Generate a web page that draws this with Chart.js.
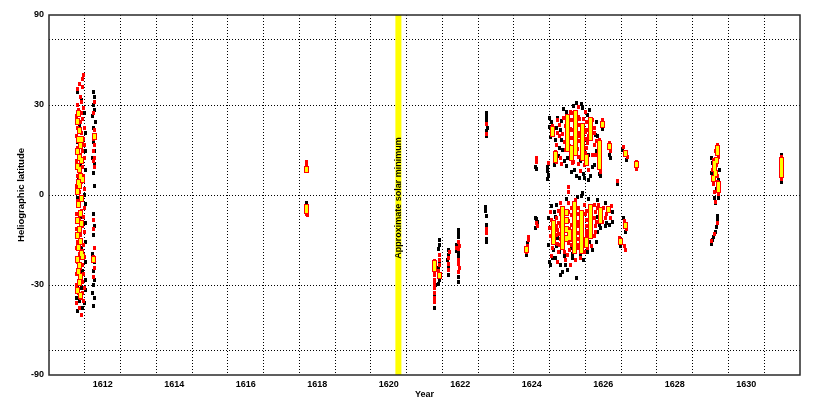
<!DOCTYPE html>
<html>
<head>
<meta charset="utf-8">
<script src="https://cdn.jsdelivr.net/npm/chart.js@4.4.1/dist/chart.umd.min.js"></script>
<style>
  html, body { margin: 0; padding: 0; background: #ffffff; }
  canvas { display: block; }
</style>
</head>
<body>
<canvas id="chart" width="814" height="407"></canvas>
<script>
// ---------------- data (year, heliographic latitude in degrees) ----------------
const xTickYears = [1612, 1614, 1616, 1618, 1620, 1622, 1624, 1626, 1628, 1630];
const xGridYears = [1611.5, 1612.5, 1613.5, 1614.5, 1615.5, 1616.5, 1617.5, 1618.5, 1619.5, 1620.5,
                    1621.5, 1622.5, 1623.5, 1624.5, 1625.5, 1626.5, 1627.5, 1628.5, 1629.5, 1630.5];
const yTickLats = [-90, -60, -30, 0, 30, 60, 90];
const yTickLabels = ['-90', '', '-30', '0', '30', '', '90'];
const minimumYear = 1620.27;
const minimumLabel = 'Approximate solar minimum';

const yellowSpots = [
  // 1611
  [1611.31,24],[1611.36,21],[1611.33,18],[1611.39,16],[1611.31,14],[1611.35,12],[1611.41,11],[1611.30,9],
  [1611.34,8],[1611.38,6],[1611.32,4],[1611.36,3],[1611.30,1],[1611.40,-1],[1611.33,-3],[1611.37,-6],
  [1611.31,-8],[1611.42,-9],[1611.35,-11],[1611.30,-13],[1611.38,-15],[1611.33,-17],[1611.40,-19],
  [1611.31,-21],[1611.36,-23],[1611.32,-25],[1611.39,-27],[1611.34,-29],[1611.30,-32],[1611.37,-34],
  [1611.42,18],[1611.44,5],[1611.45,-20],[1611.33,27],[1611.76,19],[1611.75,-21],
  // 1617
  [1617.71,8],[1617.71,-4],[1617.71,-5],
  // 1621-1624
  [1621.27,-22.5],[1621.28,-24],[1621.41,-26.5],[1623.86,-17.6],
  // 1624-1626 north
  [1624.65,13],[1624.65,11.5],[1624.59,21.5],[1624.59,20],
  [1625.01,25.5],[1625.01,24],[1625.01,22.5],[1625.01,21],[1625.01,19.5],[1625.01,18],[1625.01,16.5],[1625.01,15],
  [1625.23,27],[1625.23,25.5],[1625.23,24],[1625.23,22.5],[1625.23,21],[1625.23,19.5],[1625.23,18],[1625.23,16.5],
  [1625.23,15],[1625.23,13.5],
  [1625.43,22.5],[1625.43,21],[1625.43,19.5],[1625.43,18],[1625.43,16.5],[1625.43,15],[1625.43,13.5],[1625.43,12],
  [1625.65,24.5],[1625.65,23],[1625.65,21.5],[1625.65,20],[1625.65,18.5],
  [1625.90,16.5],[1625.90,15],[1625.90,13.5],[1625.90,12],[1625.90,10.5],[1625.90,9],
  [1625.12,15],[1625.12,13.5],[1625.12,12],[1625.54,12],[1625.54,10.5],
  [1625.99,23.2],[1626.18,15.5],[1626.63,13.2],[1626.94,9.6],
  // 1624-1626 south
  [1624.62,-9],[1624.62,-10.5],[1624.62,-12],[1624.62,-13.5],[1624.62,-15],
  [1624.87,-4.5],[1624.87,-6],[1624.87,-7.5],[1624.87,-9],[1624.87,-10.5],[1624.87,-12],[1624.87,-13.5],
  [1624.87,-15],[1624.87,-16.5],
  [1624.96,-5.5],[1624.96,-8],[1624.96,-11],[1624.96,-14],
  [1625.20,-3],[1625.20,-4.5],[1625.20,-6],[1625.20,-7.5],[1625.20,-9],[1625.20,-10.5],[1625.20,-12],
  [1625.20,-13.5],[1625.20,-15],[1625.20,-16.5],[1625.20,-18],
  [1625.40,-6],[1625.40,-7.5],[1625.40,-9],[1625.40,-10.5],[1625.40,-12],[1625.40,-13.5],[1625.40,-15],
  [1625.40,-16.5],[1625.40,-18],
  [1625.65,-4],[1625.65,-5.5],[1625.65,-7],[1625.65,-8.5],[1625.65,-10],[1625.65,-11.5],[1625.65,-13],
  [1625.93,-5],[1625.93,-6.5],[1625.93,-8],
  [1626.15,-4.5],[1625.06,-12],[1625.06,-13.5],[1625.54,-14.5],[1625.54,-16],
  [1626.63,-9.6],[1626.49,-15.1],
  // 1629
  [1629.20,15.1],[1629.20,13.5],[1629.17,11],[1629.12,10],[1629.12,8.6],[1629.15,7.0],[1629.09,5.4],
  [1629.23,3.2],[1629.23,1.6],
  // 1631
  [1630.97,11.2],[1630.97,9.6],[1630.97,8.0],[1630.97,6.4]
];

const redSpots = [
  // 1611 main column
  [1611.46,42],[1611.45,40],[1611.44,37],[1611.34,38],[1611.30,36],[1611.37,33],[1611.42,31],[1611.29,30],
  [1611.47,29],[1611.33,28],[1611.40,27],[1611.28,26],[1611.45,25],[1611.37,24],[1611.30,22],[1611.48,22],
  [1611.41,20],[1611.28,19],[1611.46,18],[1611.34,17],[1611.50,16],[1611.29,15],[1611.43,14],[1611.37,13],
  [1611.48,12],[1611.27,11],[1611.44,9],[1611.39,8],[1611.29,6],[1611.47,6],[1611.42,4],[1611.28,3],
  [1611.49,2],[1611.34,1],[1611.45,-1],[1611.29,-2],[1611.50,-4],[1611.41,-5],[1611.27,-6],[1611.47,-7],
  [1611.34,-8],[1611.44,-10],[1611.28,-11],[1611.50,-12],[1611.39,-13],[1611.31,-15],[1611.46,-16],
  [1611.27,-17],[1611.43,-18],[1611.36,-19],[1611.49,-20],[1611.29,-22],[1611.44,-23],[1611.38,-24],
  [1611.27,-26],[1611.47,-26],[1611.35,-28],[1611.43,-29],[1611.28,-30],[1611.50,-31],[1611.32,-33],
  [1611.45,-33],[1611.39,-35],[1611.28,-37],[1611.46,-36],[1611.34,-39],[1611.42,-42],
  // 1611 second column
  [1611.76,31],[1611.74,27],[1611.78,21],[1611.75,18],[1611.77,16],[1611.74,14],[1611.78,12],[1611.75,11],
  [1611.77,9],[1611.75,-8],[1611.74,-11],[1611.77,-17],[1611.75,-20],[1611.76,-24],[1611.74,-27],
  // 1617
  [1617.70,10.5],[1617.71,9.5],[1617.70,-3.5],[1617.71,-6],[1617.72,-6.5],
  // 1621-1624
  [1621.27,-21.5],[1621.29,-25],[1621.28,-26.5],[1621.27,-28],[1621.29,-29.5],[1621.28,-31],[1621.29,-33],
  [1621.28,-35],[1621.29,-36.5],
  [1621.41,-19.5],[1621.42,-21],[1621.41,-23],[1621.40,-25],
  [1621.67,-20.5],[1621.66,-22.5],[1621.68,-24.5],[1621.69,-18.5],
  [1621.95,-15],[1621.97,-16.3],[1621.95,-17.3],[1621.96,-21.3],[1621.95,-22.7],[1621.97,-24],[1621.95,-25.5],[1621.89,-17],
  [1622.74,23.2],[1622.74,19.9],[1622.74,-11],[1622.74,-12.3],
  [1624.13,12],[1624.12,10.5],[1624.12,-8.8],[1624.15,-9.8],
  [1623.92,-13.5],[1623.90,-14.6],[1623.88,-16.4],[1623.85,-18.5],
  [1624.46,10.3],
  // 1624-1626 north
  [1624.59,22.6],[1624.56,21.2],[1624.73,20.2],[1624.70,16.1],[1624.67,13.8],[1624.70,10.6],
  [1624.90,25.3],[1624.95,22.6],[1624.87,19.8],[1624.92,17.1],[1624.95,14.5],
  [1625.09,27.5],[1625.12,24.6],[1625.09,21.5],[1625.12,18.5],[1625.06,15.8],[1625.09,12.8],[1625.15,10.2],
  [1625.31,29.3],[1625.31,25.7],[1625.34,22.9],[1625.31,20.2],[1625.34,17.5],[1625.29,14.8],[1625.31,12.2],
  [1625.51,27.5],[1625.54,23.9],[1625.51,20.5],[1625.57,16.8],[1625.51,13.5],[1625.48,9.6],
  [1625.71,24.6],[1625.74,21.9],[1625.68,18.8],[1625.76,16.1],[1625.71,12.8],[1625.59,8.0],[1625.37,7.7],
  [1625.90,17.8],[1625.93,7.5],[1625.87,12.0],[1625.99,24.6],[1626.18,16.8],[1626.21,14.1],
  [1626.57,15.5],[1626.60,13.8],[1626.69,12.2],[1626.94,10.6],[1626.94,8.3],[1626.41,4.5],
  [1625.03,2.5],[1625.03,1.0],
  [1625.12,21],[1625.12,27],[1625.34,25],[1625.34,19],[1625.54,18],[1625.54,21],[1625.76,20],[1624.78,23],[1624.78,19],
  [1624.80,12],[1624.84,10],[1625.32,10],[1625.52,15],[1625.58,19],[1625.60,23],[1625.78,13],[1625.80,17.5],
  [1624.72,24.5],[1625.46,25],[1625.18,10.5],
  // 1624-1626 south
  [1624.53,-5.4],[1624.56,-8.0],[1624.50,-10.6],[1624.53,-13.2],[1624.59,-17.1],[1624.56,-19.8],
  [1624.70,-7.4],[1624.73,-11.2],[1624.73,-15.8],[1624.76,-18.5],
  [1624.81,-2.5],[1624.81,-6.1],[1624.81,-9.9],[1624.81,-14.1],
  [1625.03,-2.5],[1625.03,-5.4],[1625.03,-8.3],[1625.06,-10.9],[1625.03,-15.5],[1625.06,-17.8],
  [1625.23,-1.6],[1625.12,-4.1],[1625.31,-4.1],[1625.31,-8.6],[1625.31,-12.2],[1625.31,-17.1],[1625.12,-14.5],
  [1625.48,-3.2],[1625.51,-6.1],[1625.54,-9.9],[1625.54,-14.5],[1625.48,-18.5],
  [1625.76,-3.2],[1625.76,-7.4],[1625.79,-9.9],[1625.74,-13.2],[1625.68,-16.5],
  [1625.87,-3.2],[1626.01,-4.1],[1626.10,-6.1],[1626.21,-7.4],[1625.99,-8.6],[1626.24,-3.5],
  [1624.73,-21.9],[1624.95,-21.2],[1625.09,-22.9],[1625.23,-21.2],
  [1625.10,-6.5],[1625.10,-9.5],[1625.30,-6],[1625.30,-10],[1625.30,-14],[1625.52,-5],[1625.52,-8],
  [1625.52,-11.5],[1625.78,-5.5],[1625.78,-12],[1624.70,-10],[1624.70,-13],[1624.75,-5],
  [1624.75,-9],[1624.76,-12.5],[1624.78,-16],[1625.10,-12],[1625.12,-16],[1625.30,-16],[1625.52,-13],
  [1625.56,-17],[1625.80,-8.5],[1625.83,-4],[1626.05,-7.5],[1624.92,-18.5],[1625.00,-19.5],[1625.36,-20.5],
  [1626.60,-8.3],[1626.66,-10.9],[1626.46,-13.8],[1626.60,-16.5],[1626.63,-17.8],
  // 1629
  [1629.20,16.1],[1629.23,12.2],[1629.09,11.2],[1629.17,9.6],[1629.06,8.0],[1629.20,6.1],[1629.20,4.1],
  [1629.23,0.3],[1629.12,1.0],[1629.15,-2.2],[1629.15,14],[1629.09,3.5],
  [1629.20,-8.9],[1629.12,-12.5],[1629.03,-14.8],
  // 1631
  [1630.97,12.2],[1630.97,5.1],[1631.00,10.4]
];

const blackSpots = [
  // 1611 main column
  [1611.31,35],[1611.41,32],[1611.49,27],[1611.36,23],[1611.52,20],[1611.31,17],[1611.51,14],[1611.38,10],
  [1611.52,8],[1611.33,5],[1611.50,0],[1611.31,-1],[1611.52,-3],[1611.40,-7],[1611.53,-9],[1611.32,-12],
  [1611.52,-15],[1611.41,-17],[1611.33,-21],[1611.53,-22],[1611.45,-25],[1611.52,-28],[1611.30,-31],
  [1611.41,-31],[1611.53,-32],[1611.35,-36],[1611.27,-35],[1611.49,-37],[1611.30,-40],[1611.44,-39],
  // 1611 second column
  [1611.75,35],[1611.78,33],[1611.74,30],[1611.77,28],[1611.73,26],[1611.79,24],[1611.75,22],[1611.78,19],
  [1611.74,17],[1611.77,14],[1611.73,12],[1611.78,10],[1611.75,7],[1611.76,3],[1611.74,-6],[1611.77,-10],
  [1611.75,-13],[1611.73,-19],[1611.78,-22],[1611.74,-25],[1611.77,-28],[1611.75,-30],[1611.73,-33],
  [1611.77,-35],[1611.75,-38],
  // 1617
  [1617.70,-2.5],
  // 1621-1624
  [1621.28,-39],[1621.30,-30],[1621.27,-33.5],
  [1621.41,-14.5],[1621.41,-16],[1621.40,-17.5],[1621.41,-21.5],[1621.40,-24],[1621.41,-28],[1621.40,-29.5],
  [1621.66,-17.8],[1621.68,-19.5],[1621.66,-23.5],[1621.68,-26.4],[1621.64,-21],
  [1621.96,-11.2],[1621.96,-12.3],[1621.95,-13.5],[1621.94,-18.5],[1621.96,-19.8],[1621.95,-27],[1621.96,-29],
  [1621.89,-16],[1621.89,-18],
  [1622.74,27.1],[1622.74,25.6],[1622.74,24.2],[1622.75,22],[1622.74,20.8],[1622.74,19.2],
  [1622.71,-3.8],[1622.71,-5.2],[1622.72,-6.8],[1622.74,-9.6],[1622.74,-14],[1622.74,-15.1],
  [1624.11,9],[1624.13,8.3],[1624.10,-7.3],[1624.14,-7.6],[1624.16,-8.5],[1624.11,-10.6],
  [1623.84,-19.5],[1623.87,-15.5],
  [1624.45,9],[1624.45,7.6],[1624.46,6.3],[1624.45,5.2],
  // 1624-1626 north
  [1624.50,25.3],[1624.56,24.0],[1624.50,22.2],[1624.59,20.5],[1624.53,18.8],
  [1624.70,21.9],[1624.67,17.8],[1624.64,9.6],
  [1625.26,30.7],[1625.17,29.6],[1624.98,27.5],[1624.84,24.3],[1624.81,21.2],[1624.84,17.8],[1624.87,14.5],
  [1625.01,11.9],[1624.98,9.3],[1625.20,8.0],[1625.26,6.1],[1625.46,6.7],[1625.65,6.1],[1625.76,9.6],
  [1625.79,19.5],[1625.62,28.2],[1625.43,28.9],[1625.48,5.4],[1625.59,4.8],
  [1625.90,6.7],[1625.93,6.0],[1625.99,21.5],[1626.18,12.8],[1626.21,11.9],
  [1626.55,14.5],[1626.66,11.2],[1626.41,3.5],[1625.43,0.6],
  [1624.90,28.5],[1625.40,30.2],[1624.78,15],[1625.10,7.5],[1625.33,5.5],[1625.70,9],[1625.82,14],
  [1625.80,24],[1625.55,26.5],
  [1624.76,12.5],[1624.92,11],[1625.58,13],[1625.85,19],[1625.36,11],[1624.73,25.5],
  // 1624-1626 south
  [1625.40,-0.3],[1624.98,-1.3],[1624.70,-3.2],[1624.48,-7.4],[1624.64,-5.4],[1624.48,-16.1],
  [1624.50,-21.9],[1624.53,-22.9],[1624.67,-20.5],[1624.81,-22.9],[1624.87,-25.3],[1625.01,-24.6],
  [1625.26,-27.5],[1624.81,-26.4],[1625.15,-20.5],[1625.37,-19.8],[1625.57,-18.5],[1625.71,-17.8],
  [1625.82,-15.1],[1625.85,-11.9],[1625.85,-1.6],[1626.07,-2.5],[1626.27,-5.4],[1626.18,-9.6],
  [1625.93,-10.6],[1626.27,-8.6],[1625.59,-1.3],[1624.73,-13.8],[1624.62,-17.8],[1624.92,-19.8],
  [1624.78,-18.5],[1625.10,-17],[1625.45,-21],[1625.85,-7],[1626.05,-10],[1624.55,-3.5],[1625.28,-0.5],
  [1624.66,-7],[1624.68,-16.5],[1625.14,-19],[1625.60,-15],[1625.88,-9.5],[1626.10,-8.8],[1624.58,-20.5],
  [1624.95,-23],
  [1626.63,-11.9],[1626.57,-7.4],[1626.49,-16.5],
  // 1629
  [1629.03,11.9],[1629.06,10.2],[1629.03,7.0],[1629.23,4.8],[1629.17,2.0],[1629.12,-1.0],[1629.15,-2.6],
  [1629.25,8],[1629.22,-1],
  [1629.20,-6.7],[1629.20,-8.0],[1629.17,-10.2],[1629.15,-11.9],[1629.09,-13.5],[1629.06,-14.5],[1629.03,-15.8],
  // 1631
  [1630.97,12.8],[1630.97,4.1]
];

// ---------------- custom sine-of-latitude scale ----------------
const DEG = Math.PI / 180;
class SineScale extends Chart.LinearScale {
  getPixelForValue(value) {
    if (value === null || value === undefined || isNaN(value)) return NaN;
    const a = Math.sin(this.min * DEG), b = Math.sin(this.max * DEG);
    return this.getPixelForDecimal((Math.sin(value * DEG) - a) / (b - a));
  }
  getValueForPixel(pixel) {
    const a = Math.sin(this.min * DEG), b = Math.sin(this.max * DEG);
    const s = a + this.getDecimalForPixel(pixel) * (b - a);
    return Math.asin(Math.max(-1, Math.min(1, s))) / DEG;
  }
}
SineScale.id = 'sine';
SineScale.defaults = Chart.LinearScale.defaults;
Chart.register(SineScale);

// ---------------- markers ----------------
function makeMarker(w, h, fill) {
  const c = document.createElement('canvas');
  c.width = w; c.height = h;
  const g = c.getContext('2d');
  g.fillStyle = fill; g.fillRect(0, 0, w, h);
  return c;
}
const blackMarker = makeMarker(3, 4, '#000000');
const redMarker = makeMarker(3, 4, '#ff0000');
const haloMarker = makeMarker(5, 7, '#ff0000');
const yellowMarker = makeMarker(3, 5, '#ffff00');

const toXY = arr => arr.map(p => ({ x: p[0], y: p[1] }));

const FONT = 'Liberation Sans, Arial, Helvetica, sans-serif';

const framePlugin = {
  id: 'frame',
  beforeDatasetsDraw(chart) { chart.ctx.imageSmoothingEnabled = false; },
  afterDatasetsDraw(chart) {
    const { ctx, chartArea: a, scales } = chart;
    ctx.save();
    ctx.strokeStyle = '#2a2a2a';
    ctx.lineWidth = 1.5;
    ctx.strokeRect(a.left, a.top, a.right - a.left, a.bottom - a.top);
    const x = scales.x.getPixelForValue(minimumYear);
    const y = (a.top + a.bottom) / 2 + 3;
    ctx.translate(x, y);
    ctx.rotate(-Math.PI / 2);
    ctx.fillStyle = '#000000';
    ctx.font = 'bold 9px ' + FONT;
    ctx.textAlign = 'center';
    ctx.textBaseline = 'middle';
    ctx.fillText(minimumLabel, 0, 0.5);
    ctx.restore();
  }
};

new Chart(document.getElementById('chart'), {
  type: 'scatter',
  data: {
    datasets: [
      { label: 'yellow', data: toXY(yellowSpots), pointStyle: yellowMarker, pointRadius: 2, order: 1 },
      { label: 'yellow halo', data: toXY(yellowSpots), pointStyle: haloMarker, pointRadius: 2, order: 2 },
      { label: 'red', data: toXY(redSpots), pointStyle: redMarker, pointRadius: 2, order: 3 },
      { label: 'black', data: toXY(blackSpots), pointStyle: blackMarker, pointRadius: 2, order: 4 },
      { label: 'minimum', type: 'line', data: [{ x: minimumYear, y: -90 }, { x: minimumYear, y: 90 }],
        borderColor: '#ffff00', borderWidth: 6, pointRadius: 0, borderCapStyle: 'butt', order: 5 }
    ]
  },
  options: {
    responsive: false,
    animation: false,
    events: [],
    devicePixelRatio: 1,
    layout: { padding: { top: 15, right: 14, left: 0, bottom: 0 } },
    plugins: { legend: { display: false }, tooltip: { enabled: false } },
    scales: {
      x: {
        type: 'linear', min: 1610.5, max: 1631.5,
        afterBuildTicks: s => {
          s.ticks = xTickYears.concat(xGridYears).sort((p, q) => p - q).map(v => ({ value: v }));
        },
        afterFit: s => { s.height = 32; },
        ticks: {
          autoSkip: false, maxRotation: 0, minRotation: 0, padding: 4, color: '#000000',
          font: { family: FONT, size: 9, weight: 'bold' },
          callback: v => (xTickYears.includes(v) ? String(v) : '')
        },
        grid: {
          drawTicks: false, lineWidth: 1,
          color: c => (c.tick && xGridYears.includes(c.tick.value) ? '#000000' : 'rgba(0,0,0,0)')
        },
        border: { display: false, dash: [1, 2] },
        title: { display: true, text: 'Year', color: '#000000', padding: { top: 0, bottom: 7 },
                 font: { family: FONT, size: 9, weight: 'bold' } }
      },
      y: {
        type: 'sine', min: -90, max: 90,
        afterBuildTicks: s => { s.ticks = yTickLats.map(v => ({ value: v })); },
        afterFit: s => { s.width = 49; },
        ticks: {
          autoSkip: false, padding: 5, color: '#000000',
          font: { family: FONT, size: 9, weight: 'bold' },
          callback: (v, i) => yTickLabels[i]
        },
        grid: {
          drawTicks: false, lineWidth: 1,
          color: c => (c.tick && Math.abs(c.tick.value) === 90 ? 'rgba(0,0,0,0)' : '#000000')
        },
        border: { display: false, dash: [1, 2] },
        title: { display: true, text: 'Heliographic latitude', color: '#000000', padding: { top: 16, bottom: 0 },
                 font: { family: FONT, size: 9.5, weight: 'bold' } }
      }
    }
  },
  plugins: [framePlugin]
});
</script>
</body>
</html>
